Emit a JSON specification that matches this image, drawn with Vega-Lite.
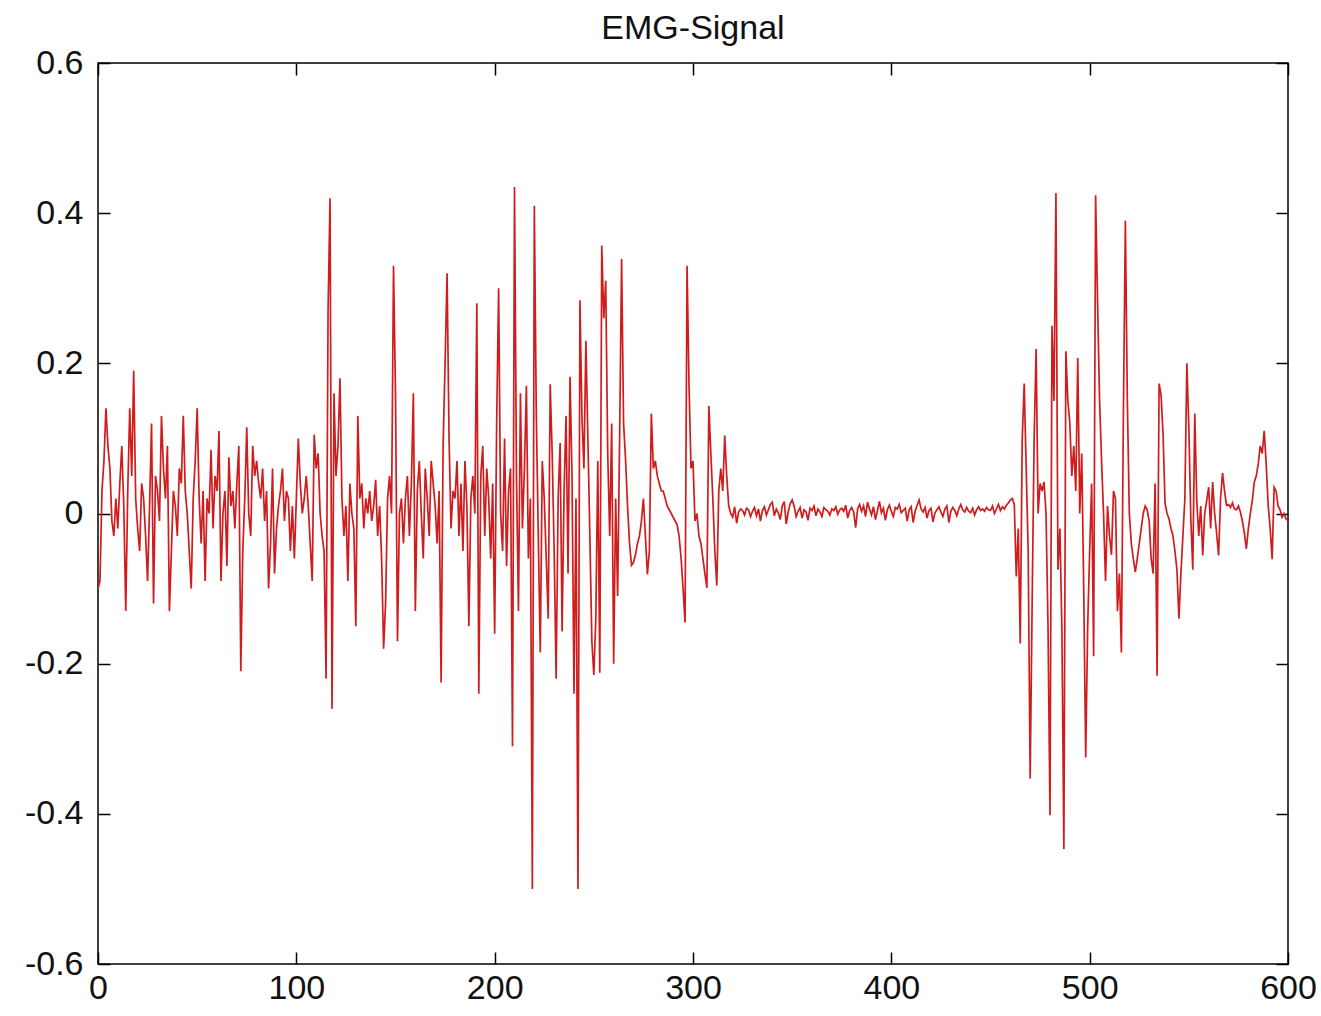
{
  "$schema": "https://vega.github.io/schema/vega-lite/v6.json",
  "autosize": {"type": "none"},
  "padding": {"left": 98, "top": 63, "right": 33, "bottom": 52},
  "width": 1190,
  "height": 901,
  "background": "white",
  "config": {
    "view": {"stroke": "#000000", "strokeWidth": 1.5},
    "axis": {"grid": false, "domain": false, "tickColor": "#000000", "tickWidth": 1.5, "tickSize": -12, "labelFont": "Liberation Sans", "labelFontSize": 34, "labelColor": "#111111", "title": null}
  },
  "title": {"text": "EMG-Signal", "fontSize": 34, "font": "Liberation Sans", "fontWeight": "normal", "color": "#111111", "baseline": "alphabetic", "offset": 0, "dy": 27, "anchor": "middle", "frame": "group"},
  "data": {"values": [
{"x":0,"y":-0.10},{"x":1,"y":-0.09},{"x":2,"y":0.03},{"x":3,"y":0.07},{"x":4,"y":0.14},{"x":5,"y":0.09},{"x":6,"y":0.06},{"x":7,"y":-0.01},{"x":8,"y":-0.03},{"x":9,"y":0.02},
{"x":10,"y":-0.02},{"x":11,"y":0.04},{"x":12,"y":0.09},{"x":13,"y":0.01},{"x":14,"y":-0.13},{"x":15,"y":0.03},{"x":16,"y":0.14},{"x":17,"y":0.05},{"x":18,"y":0.19},{"x":19,"y":0.02},
{"x":20,"y":-0.02},{"x":21,"y":-0.05},{"x":22,"y":0.04},{"x":23,"y":0.02},{"x":24,"y":-0.03},{"x":25,"y":-0.09},{"x":26,"y":0.01},{"x":27,"y":0.12},{"x":28,"y":-0.12},{"x":29,"y":0.05},
{"x":30,"y":0.03},{"x":31,"y":-0.01},{"x":32,"y":0.13},{"x":33,"y":0.06},{"x":34,"y":0.02},{"x":35,"y":0.09},{"x":36,"y":-0.13},{"x":37,"y":-0.05},{"x":38,"y":0.03},{"x":39,"y":0.01},
{"x":40,"y":-0.03},{"x":41,"y":0.06},{"x":42,"y":0.04},{"x":43,"y":0.13},{"x":44,"y":0.03},{"x":45,"y":0.0},{"x":46,"y":-0.05},{"x":47,"y":-0.10},{"x":48,"y":0.02},{"x":49,"y":0.07},
{"x":50,"y":0.14},{"x":51,"y":0.02},{"x":52,"y":-0.04},{"x":53,"y":0.03},{"x":54,"y":-0.09},{"x":55,"y":0.02},{"x":56,"y":0.0},{"x":57,"y":0.085},{"x":58,"y":-0.02},{"x":59,"y":0.05},
{"x":60,"y":0.03},{"x":61,"y":0.11},{"x":62,"y":-0.09},{"x":63,"y":0.0},{"x":64,"y":0.03},{"x":65,"y":-0.07},{"x":66,"y":0.075},{"x":67,"y":0.01},{"x":68,"y":0.03},{"x":69,"y":-0.02},
{"x":70,"y":0.04},{"x":71,"y":0.09},{"x":72,"y":-0.21},{"x":73,"y":-0.05},{"x":74,"y":0.02},{"x":75,"y":0.115},{"x":76,"y":0.0},{"x":77,"y":-0.03},{"x":78,"y":0.09},{"x":79,"y":0.05},
{"x":80,"y":0.07},{"x":81,"y":0.04},{"x":82,"y":0.02},{"x":83,"y":0.06},{"x":84,"y":-0.01},{"x":85,"y":0.03},{"x":86,"y":-0.10},{"x":87,"y":-0.04},{"x":88,"y":0.06},{"x":89,"y":-0.08},
{"x":90,"y":-0.02},{"x":91,"y":0.01},{"x":92,"y":0.03},{"x":93,"y":0.06},{"x":94,"y":-0.01},{"x":95,"y":0.03},{"x":96,"y":0.02},{"x":97,"y":-0.05},{"x":98,"y":0.01},{"x":99,"y":-0.06},
{"x":100,"y":0.02},{"x":101,"y":0.10},{"x":102,"y":0.04},{"x":103,"y":0.0},{"x":104,"y":0.02},{"x":105,"y":0.05},{"x":106,"y":0.01},{"x":107,"y":-0.04},{"x":108,"y":-0.09},{"x":109,"y":0.105},
{"x":110,"y":0.06},{"x":111,"y":0.08},{"x":112,"y":0.0},{"x":113,"y":-0.03},{"x":114,"y":-0.05},{"x":115,"y":-0.22},{"x":116,"y":0.27},{"x":117,"y":0.42},{"x":118,"y":-0.26},{"x":119,"y":0.16},
{"x":120,"y":0.05},{"x":121,"y":0.09},{"x":122,"y":0.18},{"x":123,"y":0.02},{"x":124,"y":-0.03},{"x":125,"y":0.01},{"x":126,"y":-0.09},{"x":127,"y":0.04},{"x":128,"y":0.0},{"x":129,"y":-0.02},
{"x":130,"y":-0.15},{"x":131,"y":0.13},{"x":132,"y":0.02},{"x":133,"y":0.04},{"x":134,"y":-0.02},{"x":135,"y":0.02},{"x":136,"y":0.0},{"x":137,"y":0.03},{"x":138,"y":-0.01},{"x":139,"y":0.01},
{"x":140,"y":0.045},{"x":141,"y":-0.03},{"x":142,"y":0.01},{"x":143,"y":-0.06},{"x":144,"y":-0.18},{"x":145,"y":-0.12},{"x":146,"y":0.02},{"x":147,"y":0.05},{"x":148,"y":0.0},{"x":149,"y":0.33},
{"x":150,"y":0.16},{"x":151,"y":-0.17},{"x":152,"y":0.0},{"x":153,"y":0.02},{"x":154,"y":-0.04},{"x":155,"y":0.02},{"x":156,"y":0.05},{"x":157,"y":-0.03},{"x":158,"y":0.04},{"x":159,"y":0.16},
{"x":160,"y":-0.13},{"x":161,"y":0.03},{"x":162,"y":0.07},{"x":163,"y":0.0},{"x":164,"y":-0.06},{"x":165,"y":0.06},{"x":166,"y":0.02},{"x":167,"y":-0.03},{"x":168,"y":0.07},{"x":169,"y":0.04},
{"x":170,"y":0.01},{"x":171,"y":-0.04},{"x":172,"y":0.03},{"x":173,"y":-0.225},{"x":174,"y":0.09},{"x":175,"y":0.2},{"x":176,"y":0.32},{"x":177,"y":0.1},{"x":178,"y":-0.02},{"x":179,"y":0.03},
{"x":180,"y":0.02},{"x":181,"y":0.07},{"x":182,"y":-0.03},{"x":183,"y":0.04},{"x":184,"y":-0.05},{"x":185,"y":0.07},{"x":186,"y":0.01},{"x":187,"y":-0.15},{"x":188,"y":0.02},{"x":189,"y":0.05},
{"x":190,"y":0.0},{"x":191,"y":0.28},{"x":192,"y":-0.24},{"x":193,"y":0.05},{"x":194,"y":0.09},{"x":195,"y":-0.03},{"x":196,"y":0.06},{"x":197,"y":0.02},{"x":198,"y":-0.06},{"x":199,"y":0.04},
{"x":200,"y":-0.16},{"x":201,"y":0.12},{"x":202,"y":0.30},{"x":203,"y":0.0},{"x":204,"y":-0.05},{"x":205,"y":0.10},{"x":206,"y":-0.07},{"x":207,"y":0.03},{"x":208,"y":0.06},{"x":209,"y":-0.31},
{"x":210,"y":0.435},{"x":211,"y":0.05},{"x":212,"y":-0.13},{"x":213,"y":0.16},{"x":214,"y":-0.02},{"x":215,"y":0.06},{"x":216,"y":0.17},{"x":217,"y":-0.06},{"x":218,"y":0.02},{"x":219,"y":-0.50},
{"x":220,"y":0.41},{"x":221,"y":0.13},{"x":222,"y":-0.03},{"x":223,"y":-0.185},{"x":224,"y":0.07},{"x":225,"y":0.02},{"x":226,"y":-0.06},{"x":227,"y":-0.14},{"x":228,"y":0.172},{"x":229,"y":0.08},
{"x":230,"y":-0.05},{"x":231,"y":-0.22},{"x":232,"y":0.02},{"x":233,"y":0.094},{"x":234,"y":-0.157},{"x":235,"y":0.03},{"x":236,"y":0.13},{"x":237,"y":-0.08},{"x":238,"y":0.182},{"x":239,"y":0.05},
{"x":240,"y":-0.24},{"x":241,"y":0.02},{"x":242,"y":-0.50},{"x":243,"y":0.284},{"x":244,"y":0.13},{"x":245,"y":0.06},{"x":246,"y":0.23},{"x":247,"y":0.1},{"x":248,"y":-0.03},{"x":249,"y":-0.17},
{"x":250,"y":-0.215},{"x":251,"y":-0.14},{"x":252,"y":0.07},{"x":253,"y":-0.212},{"x":254,"y":0.357},{"x":255,"y":0.26},{"x":256,"y":0.31},{"x":257,"y":0.08},{"x":258,"y":-0.03},{"x":259,"y":0.12},
{"x":260,"y":-0.2},{"x":261,"y":0.02},{"x":262,"y":-0.11},{"x":263,"y":0.1},{"x":264,"y":0.339},{"x":265,"y":0.12},{"x":266,"y":0.072},{"x":267,"y":0.01},{"x":268,"y":-0.04},{"x":269,"y":-0.069},
{"x":270,"y":-0.065},{"x":271,"y":-0.055},{"x":272,"y":-0.04},{"x":273,"y":-0.03},{"x":274,"y":-0.01},{"x":275,"y":0.02},{"x":276,"y":-0.03},{"x":277,"y":-0.081},{"x":278,"y":-0.05},{"x":279,"y":0.133},
{"x":280,"y":0.06},{"x":281,"y":0.07},{"x":282,"y":0.05},{"x":283,"y":0.04},{"x":284,"y":0.03},{"x":285,"y":0.03},{"x":286,"y":0.02},{"x":287,"y":0.01},{"x":288,"y":0.005},{"x":289,"y":0.0},
{"x":290,"y":-0.005},{"x":291,"y":-0.01},{"x":292,"y":-0.015},{"x":293,"y":-0.03},{"x":294,"y":-0.06},{"x":295,"y":-0.1},{"x":296,"y":-0.145},{"x":297,"y":0.33},{"x":298,"y":0.17},{"x":299,"y":0.06},
{"x":300,"y":0.07},{"x":301,"y":-0.01},{"x":302,"y":0.0},{"x":303,"y":-0.03},{"x":304,"y":-0.04},{"x":305,"y":-0.06},{"x":306,"y":-0.08},{"x":307,"y":-0.099},{"x":308,"y":0.143},{"x":309,"y":0.08},
{"x":310,"y":0.02},{"x":311,"y":-0.05},{"x":312,"y":-0.096},{"x":313,"y":0.03},{"x":314,"y":0.06},{"x":315,"y":0.03},{"x":316,"y":0.104},{"x":317,"y":0.05},{"x":318,"y":0.01},{"x":319,"y":0.0},
{"x":320,"y":-0.005},{"x":321,"y":0.009},{"x":322,"y":-0.013},{"x":323,"y":0.002},{"x":324,"y":0.006},{"x":325,"y":0.004},{"x":326,"y":-0.002},{"x":327,"y":0.007},{"x":328,"y":0.005},{"x":329,"y":-0.004},
{"x":330,"y":0.003},{"x":331,"y":0.008},{"x":332,"y":-0.003},{"x":333,"y":0.006},{"x":334,"y":-0.01},{"x":335,"y":0.004},{"x":336,"y":0.009},{"x":337,"y":-0.002},{"x":338,"y":0.005},{"x":339,"y":0.012},
{"x":340,"y":0.015},{"x":341,"y":-0.003},{"x":342,"y":0.006},{"x":343,"y":0.001},{"x":344,"y":-0.008},{"x":345,"y":0.01},{"x":346,"y":0.016},{"x":347,"y":-0.014},{"x":348,"y":0.002},{"x":349,"y":0.013},
{"x":350,"y":0.018},{"x":351,"y":0.01},{"x":352,"y":-0.004},{"x":353,"y":0.003},{"x":354,"y":0.008},{"x":355,"y":-0.006},{"x":356,"y":0.005},{"x":357,"y":0.002},{"x":358,"y":-0.009},{"x":359,"y":0.007},
{"x":360,"y":0.004},{"x":361,"y":0.01},{"x":362,"y":-0.003},{"x":363,"y":0.006},{"x":364,"y":0.002},{"x":365,"y":-0.004},{"x":366,"y":0.008},{"x":367,"y":0.005},{"x":368,"y":0.003},{"x":369,"y":-0.002},
{"x":370,"y":0.006},{"x":371,"y":0.004},{"x":372,"y":0.009},{"x":373,"y":-0.001},{"x":374,"y":0.005},{"x":375,"y":0.007},{"x":376,"y":0.003},{"x":377,"y":0.011},{"x":378,"y":-0.006},{"x":379,"y":0.004},
{"x":380,"y":0.008},{"x":381,"y":0.002},{"x":382,"y":-0.019},{"x":383,"y":0.006},{"x":384,"y":0.012},{"x":385,"y":0.003},{"x":386,"y":0.01},{"x":387,"y":-0.004},{"x":388,"y":0.015},{"x":389,"y":0.006},
{"x":390,"y":-0.002},{"x":391,"y":0.009},{"x":392,"y":-0.008},{"x":393,"y":0.004},{"x":394,"y":0.016},{"x":395,"y":0.001},{"x":396,"y":0.007},{"x":397,"y":-0.009},{"x":398,"y":0.005},{"x":399,"y":0.011},
{"x":400,"y":0.003},{"x":401,"y":-0.004},{"x":402,"y":0.008},{"x":403,"y":0.006},{"x":404,"y":0.012},{"x":405,"y":0.001},{"x":406,"y":0.004},{"x":407,"y":0.007},{"x":408,"y":-0.01},{"x":409,"y":0.005},
{"x":410,"y":0.009},{"x":411,"y":-0.012},{"x":412,"y":0.003},{"x":413,"y":0.011},{"x":414,"y":0.018},{"x":415,"y":0.006},{"x":416,"y":0.002},{"x":417,"y":0.008},{"x":418,"y":-0.006},{"x":419,"y":0.004},
{"x":420,"y":0.007},{"x":421,"y":-0.011},{"x":422,"y":0.001},{"x":423,"y":0.005},{"x":424,"y":0.009},{"x":425,"y":0.002},{"x":426,"y":-0.004},{"x":427,"y":0.006},{"x":428,"y":0.01},{"x":429,"y":-0.012},
{"x":430,"y":0.003},{"x":431,"y":0.008},{"x":432,"y":0.004},{"x":433,"y":-0.003},{"x":434,"y":0.006},{"x":435,"y":0.012},{"x":436,"y":0.005},{"x":437,"y":0.002},{"x":438,"y":0.008},{"x":439,"y":0.003},
{"x":440,"y":0.001},{"x":441,"y":0.007},{"x":442,"y":-0.002},{"x":443,"y":0.005},{"x":444,"y":0.009},{"x":445,"y":0.004},{"x":446,"y":0.006},{"x":447,"y":0.003},{"x":448,"y":0.008},{"x":449,"y":0.005},
{"x":450,"y":0.004},{"x":451,"y":0.01},{"x":452,"y":0.0},{"x":453,"y":0.006},{"x":454,"y":0.012},{"x":455,"y":0.004},{"x":456,"y":0.009},{"x":457,"y":0.006},{"x":458,"y":0.011},{"x":459,"y":0.014},
{"x":460,"y":0.018},{"x":461,"y":0.02},{"x":462,"y":0.012},{"x":463,"y":-0.084},{"x":464,"y":-0.02},{"x":465,"y":-0.173},{"x":466,"y":0.1},{"x":467,"y":0.173},{"x":468,"y":0.06},{"x":469,"y":-0.05},
{"x":470,"y":-0.353},{"x":471,"y":-0.118},{"x":472,"y":0.1},{"x":473,"y":0.219},{"x":474,"y":0.0},{"x":475,"y":0.04},{"x":476,"y":0.03},{"x":477,"y":0.042},{"x":478,"y":0.0},{"x":479,"y":-0.15},
{"x":480,"y":-0.402},{"x":481,"y":0.25},{"x":482,"y":0.15},{"x":483,"y":0.427},{"x":484,"y":-0.075},{"x":485,"y":-0.02},{"x":486,"y":-0.154},{"x":487,"y":-0.447},{"x":488,"y":0.216},{"x":489,"y":0.15},
{"x":490,"y":0.12},{"x":491,"y":0.05},{"x":492,"y":0.09},{"x":493,"y":0.03},{"x":494,"y":0.207},{"x":495,"y":0.0},{"x":496,"y":0.08},{"x":497,"y":-0.1},{"x":498,"y":-0.325},{"x":499,"y":-0.15},
{"x":500,"y":-0.05},{"x":501,"y":0.04},{"x":502,"y":-0.19},{"x":503,"y":0.424},{"x":504,"y":0.28},{"x":505,"y":0.15},{"x":506,"y":0.07},{"x":507,"y":0.0},{"x":508,"y":-0.09},{"x":509,"y":0.01},
{"x":510,"y":-0.03},{"x":511,"y":-0.055},{"x":512,"y":0.03},{"x":513,"y":0.02},{"x":514,"y":-0.13},{"x":515,"y":-0.08},{"x":516,"y":-0.185},{"x":517,"y":0.13},{"x":518,"y":0.39},{"x":519,"y":0.15},
{"x":520,"y":0.0},{"x":521,"y":-0.04},{"x":522,"y":-0.06},{"x":523,"y":-0.078},{"x":524,"y":-0.06},{"x":525,"y":-0.04},{"x":526,"y":-0.02},{"x":527,"y":0.0},{"x":528,"y":0.01},{"x":529,"y":0.005},
{"x":530,"y":-0.01},{"x":531,"y":-0.06},{"x":532,"y":-0.08},{"x":533,"y":0.04},{"x":534,"y":-0.216},{"x":535,"y":0.173},{"x":536,"y":0.158},{"x":537,"y":0.106},{"x":538,"y":0.014},{"x":539,"y":0.0},
{"x":540,"y":-0.007},{"x":541,"y":-0.02},{"x":542,"y":-0.03},{"x":543,"y":-0.05},{"x":544,"y":-0.075},{"x":545,"y":-0.14},{"x":546,"y":-0.08},{"x":547,"y":-0.03},{"x":548,"y":0.02},{"x":549,"y":0.2},
{"x":550,"y":0.115},{"x":551,"y":-0.007},{"x":552,"y":-0.075},{"x":553,"y":0.133},{"x":554,"y":0.017},{"x":555,"y":-0.03},{"x":556,"y":0.01},{"x":557,"y":-0.056},{"x":558,"y":0.0},{"x":559,"y":0.017},
{"x":560,"y":0.035},{"x":561,"y":-0.02},{"x":562,"y":0.042},{"x":563,"y":0.0},{"x":564,"y":-0.026},{"x":565,"y":-0.056},{"x":566,"y":0.02},{"x":567,"y":0.054},{"x":568,"y":0.03},{"x":569,"y":0.011},
{"x":570,"y":0.012},{"x":571,"y":0.008},{"x":572,"y":0.014},{"x":573,"y":0.006},{"x":574,"y":0.005},{"x":575,"y":0.01},{"x":576,"y":0.002},{"x":577,"y":-0.01},{"x":578,"y":-0.026},{"x":579,"y":-0.047},
{"x":580,"y":-0.02},{"x":581,"y":0.0},{"x":582,"y":0.017},{"x":583,"y":0.042},{"x":584,"y":0.05},{"x":585,"y":0.066},{"x":586,"y":0.09},{"x":587,"y":0.08},{"x":588,"y":0.11},{"x":589,"y":0.066},
{"x":590,"y":0.011},{"x":591,"y":-0.02},{"x":592,"y":-0.061},{"x":593,"y":0.035},{"x":594,"y":0.03},{"x":595,"y":0.01},{"x":596,"y":0.005},{"x":597,"y":-0.005},{"x":598,"y":0.0},{"x":599,"y":-0.007},
{"x":600,"y":-0.01}
  ]},
  "layer": [
    {
      "mark": {"type": "line", "color": "#d01c1c", "strokeWidth": 1.7, "clip": true},
      "encoding": {
        "x": {"field": "x", "type": "quantitative", "scale": {"domain": [0, 600], "nice": false, "zero": false},
              "axis": {"orient": "bottom", "values": [0, 100, 200, 300, 400, 500, 600], "labelPadding": 19, "labelFlush": false, "labelOverlap": false}},
        "y": {"field": "y", "type": "quantitative", "scale": {"domain": [-0.6, 0.6], "nice": false, "zero": false},
              "axis": {"orient": "left", "values": [-0.6, -0.4, -0.2, 0, 0.2, 0.4, 0.6], "labelPadding": 27, "labelFlush": false, "labelOverlap": false,
                       "labelExpr": "abs(datum.value) < 1e-9 ? '0' : (datum.value < 0 ? '-' + format(-datum.value, '.1f') : format(datum.value, '.1f'))"}}
      }
    },
    {
      "mark": {"type": "line", "strokeOpacity": 0},
      "encoding": {
        "x": {"field": "x", "type": "quantitative",
              "axis": {"orient": "top", "values": [0, 100, 200, 300, 400, 500, 600], "labels": false}},
        "y": {"field": "y", "type": "quantitative",
              "axis": {"orient": "right", "values": [-0.6, -0.4, -0.2, 0, 0.2, 0.4, 0.6], "labels": false}}
      }
    }
  ],
  "resolve": {"axis": {"x": "independent", "y": "independent"}}
}
